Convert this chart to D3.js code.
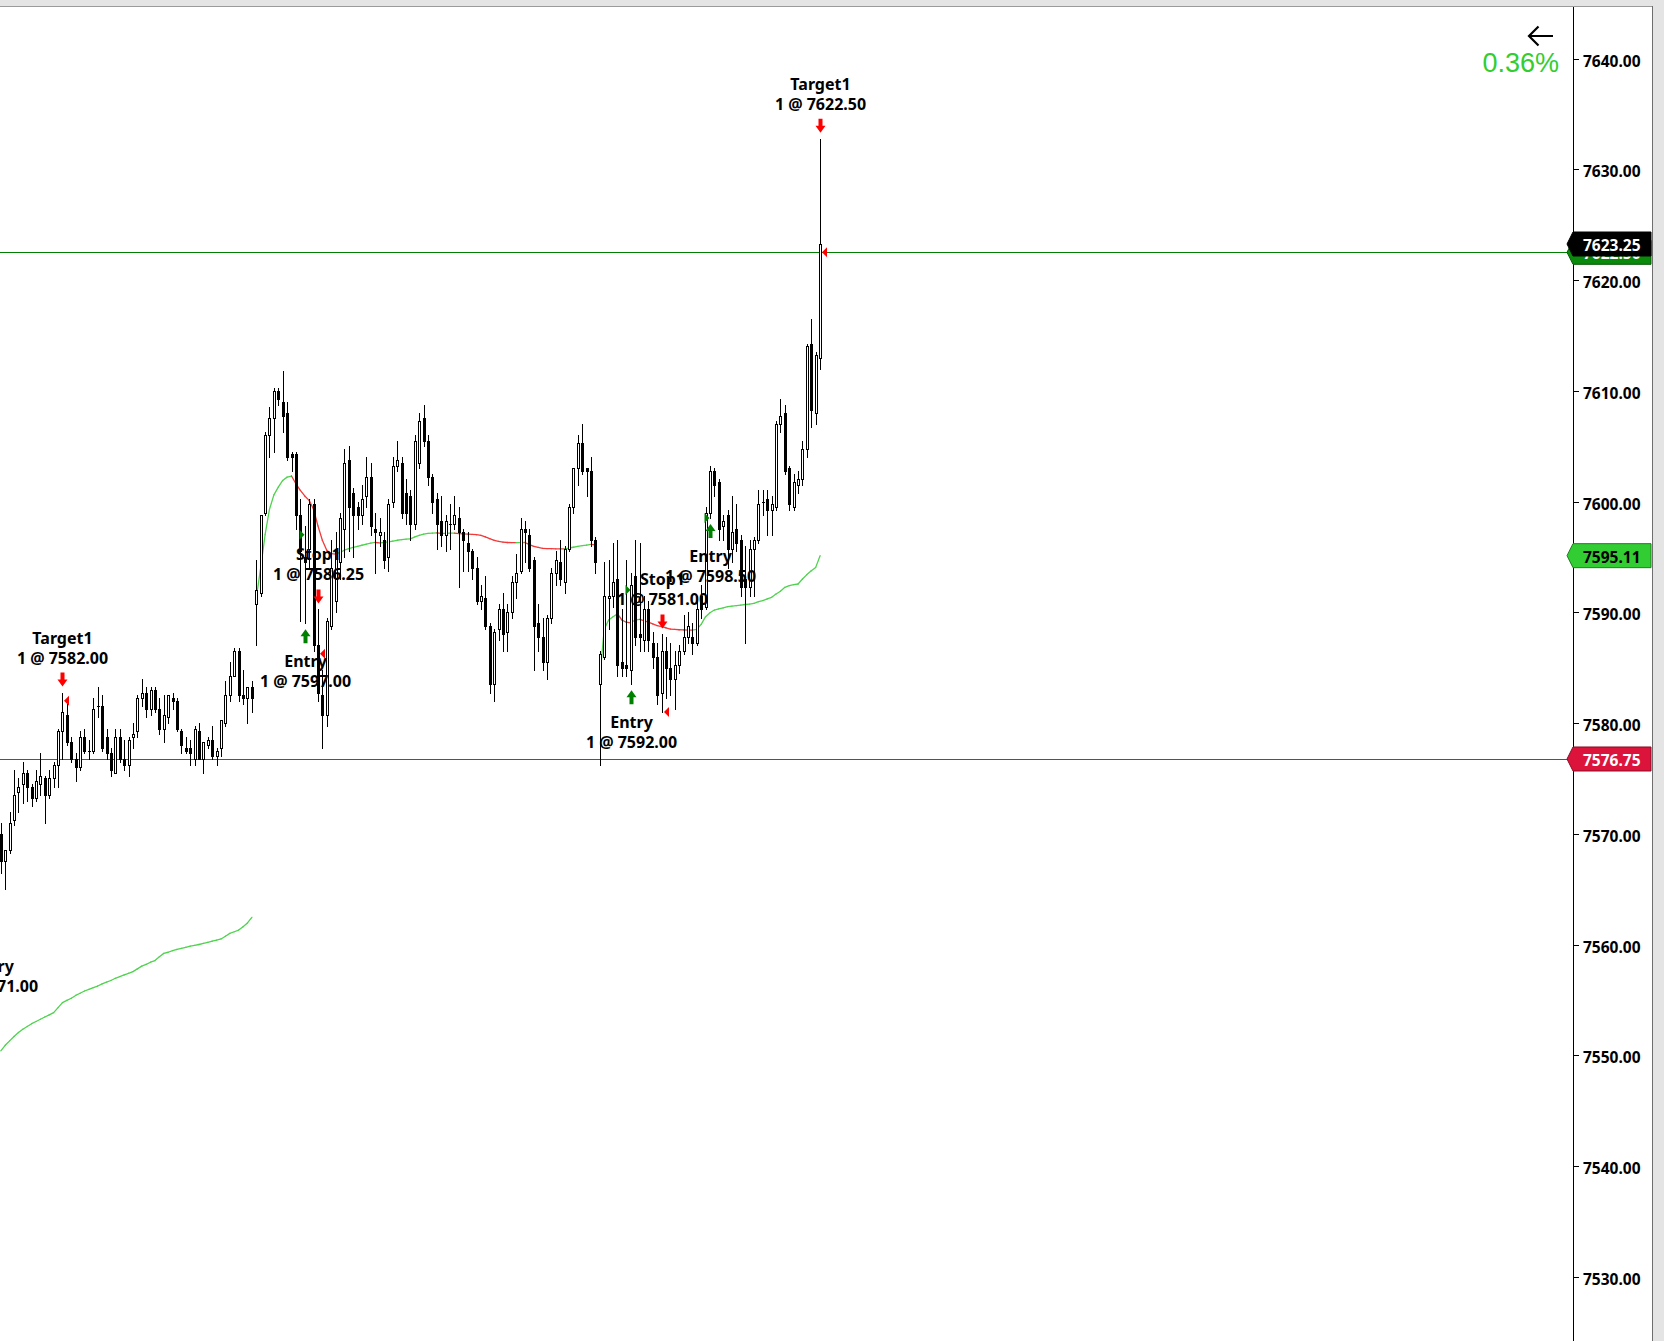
<!DOCTYPE html>
<html><head><meta charset="utf-8">
<script src="https://cdn.jsdelivr.net/npm/d3@7"></script>
<style>
html,body{margin:0;padding:0;background:#fff;overflow:hidden;}
svg{display:block;}
</style></head><body>
<svg id="chart" width="1664" height="1341"></svg>
<script>
// ---------- DATA ----------
const opens = [
7570,7567.5,7568.5,7571.25,7573.75,7574.5,7575.5,7574.25,7573.25,7574.5,
7575,7573.5,7575,7576.25,7579.25,7580.75,7578.25,7576.75,7576,7578.75,
7577.5,7577.5,7581.5,7581.5,7578.75,7577.25,7575.5,7578.75,7576.75,7576.25,
7578.75,7579.25,7582.25,7582.75,7581.25,7583,7581.25,7579.5,7580.5,7582.25,
7582,7579.25,7577.75,7577.75,7576.75,7579.25,7576.75,7578,7578.5,7577,
7577.75,7580,7582.5,7584.25,7586.5,7582.5,7582.25,7583.25,7590.75,7591.75,
7599,7606,7607.5,7610,7609,7608,7604.25,7604.25,7598.75,7595,
7595.75,7599.75,7587,7582.5,7580.75,7588.75,7591,7594.5,7597.5,7603.75,
7600.75,7599.5,7598.75,7600.5,7602.25,7597.5,7597,7596.5,7595,7600,
7603.25,7603.5,7600.75,7600.5,7598,7603.5,7607.5,7605.5,7602.25,7600.25,
7598.25,7597,7598,7598,7598.5,7597.25,7596.25,7595.5,7594,7591,
7591.25,7588.75,7583.5,7588.5,7590.25,7588.25,7590,7592.75,7593.75,7597.5,
7597,7594.75,7589,7587.75,7585.5,7589.5,7593.5,7594.5,7592.75,7595.75,
7599.5,7603,7605.25,7603,7602.75,7596.5,7583.5,7586,7591.25,7591.5,
7593,7585.5,7585.25,7584.75,7593.25,7588,7587.5,7590.25,7587.25,7586,
7582.75,7586.5,7585,7584,7585.25,7586.5,7587.75,7587.75,7587.25,7591.5,
7590.5,7599,7602.75,7601.75,7597.75,7598.75,7595.75,7597.5,7596.5,7593,
7592.25,7595.75,7596.5,7600,7600.25,7599.25,7599.5,7607,7608,7603,
7599.5,7601.5,7602,7604.75,7614.25,7608,7613
];
const highs = [
7571,7568.5,7572,7575.75,7575,7576.5,7575.75,7574.5,7575.75,7577.25,
7575.25,7575.75,7576.5,7579.5,7582.75,7581.75,7578.75,7577.25,7579.25,7579.5,
7578.5,7582.25,7583.25,7582.5,7579.5,7577.75,7579.5,7579.5,7578.5,7578.75,
7580,7582.5,7584,7583.25,7583.25,7583.25,7582.25,7582.5,7582.5,7582.75,
7582.25,7579.5,7578.75,7578.5,7579.75,7580,7578.25,7578.75,7579.75,7577.75,
7580.25,7583.75,7585.5,7586.75,7586.75,7584.75,7583.25,7583.75,7594.75,7598.75,
7606.25,7608.5,7610.25,7610.25,7611.75,7609,7604.5,7604.5,7600.25,7597.75,
7600.25,7600.25,7590.25,7584.75,7589.5,7596.5,7597.25,7599,7604.75,7605,
7601.25,7600,7601.5,7604,7603.5,7599,7598.5,7597.25,7600.25,7604,
7605.5,7604,7602,7601,7606,7608,7608.75,7606,7602.5,7600.75,
7600.5,7598.75,7599.75,7600.5,7599.5,7597.5,7597.25,7595.75,7595,7592.5,
7593.25,7589,7588.5,7590.75,7591.75,7590.75,7593.25,7595.25,7598.5,7598.25,
7597.5,7595,7590.75,7589.5,7589.75,7594,7595.5,7596.5,7596,7599.75,
7603,7606,7607,7603,7604,7596.75,7586.5,7594.5,7594.75,7596.25,
7596.5,7590.25,7594.75,7593.5,7596.5,7596.25,7591.5,7591,7588.25,7587.25,
7588,7587.75,7587.25,7586.5,7587,7589.75,7590,7589,7591.5,7592.5,
7599.5,7603.25,7603,7602,7598.75,7599.25,7600.5,7599.75,7597,7596,
7596.5,7596.75,7601,7601,7601,7600.5,7607.25,7609.25,7608.75,7603.25,
7602.5,7602.75,7605.5,7614.25,7616.5,7613.5,7632.75
];
const lows = [
7566.5,7565,7568.25,7570.75,7572,7572.75,7573,7572.5,7573,7573.5,
7571,7573.25,7574.25,7574.25,7576.75,7578,7576.5,7574.75,7575.75,7577.25,
7576.75,7577.25,7580.5,7577.5,7576.75,7575.25,7575.5,7576.5,7575.75,7575.25,
7577.75,7578.75,7581.5,7580.5,7580.75,7581,7579,7578.25,7580,7581.25,
7579.25,7577.25,7577.25,7576.25,7576.25,7576.75,7575.5,7577.75,7576.75,7576.25,
7577,7579.75,7582,7584.25,7582,7581.75,7580,7581,7587,7591.5,
7598.75,7604,7604.5,7608.75,7606.25,7603.75,7602.75,7597.5,7589.25,7589,
7594,7586.5,7582,7577.75,7579.75,7588.5,7590,7593,7595,7595.5,
7595,7597.5,7598,7599.5,7597,7593.5,7596,7594,7593.75,7599.5,
7602.75,7598.5,7598,7596.5,7597.5,7603,7605,7601.5,7599,7595.75,
7596,7595.5,7595.75,7597.5,7592.25,7593.75,7593.75,7593,7590.75,7590.25,
7588.5,7582.75,7582,7587.5,7586.5,7586.5,7589.5,7591.25,7593.5,7594.5,
7593.75,7584.75,7586.5,7584.75,7584,7589,7592.5,7592.5,7591.75,7595.5,
7599,7601.5,7602.5,7600.5,7596,7593.5,7576.25,7585.75,7588.5,7590.5,
7584.25,7584.25,7584.25,7583.5,7587,7586.5,7586.5,7586.5,7585,7581.75,
7581,7582.25,7582.5,7581.25,7584.5,7586.25,7587.25,7586.25,7587,7589.5,
7590.25,7598.5,7600.5,7596.5,7596.5,7594,7594.5,7595.5,7591.5,7587.25,
7591.5,7591.5,7596.25,7598.75,7597,7597,7599.25,7606.25,7602.5,7599.25,
7599.25,7600.75,7601.5,7604,7606.75,7607,7612
];
const closes = [
7567.5,7568.5,7571,7573.5,7574.25,7575.5,7574.25,7573.25,7574.75,7575.25,
7573.5,7575,7576.25,7579.25,7581,7578.25,7576.75,7576,7578.75,7577.5,
7577.5,7581.25,7581.5,7577.75,7577.25,7575.75,7578.75,7576.75,7576.25,7578.5,
7579,7582.25,7582.75,7581.25,7583,7581.25,7579.5,7580.75,7582.5,7582,
7579.5,7578,7577.5,7577.25,7579.5,7576.75,7578.25,7578.5,7577,7577.5,
7580.25,7582.5,7584.25,7586.5,7582.5,7582.25,7583.25,7582.25,7592,7598.75,
7606,7607.5,7610,7609.25,7607.75,7604,7604,7598.75,7595.5,7594.5,
7599.75,7587,7582.75,7580.75,7589.25,7594,7595.5,7598.5,7603.5,7599.5,
7598.75,7598.75,7600.25,7602.25,7597.75,7597.25,7597.25,7594.75,7599.75,7603.25,
7603.75,7599,7599,7598,7605.5,7607.25,7605.5,7602.25,7600,7598,
7597,7598.25,7598,7598.75,7597.25,7596.5,7595.5,7594,7591,7591.5,
7588.75,7583.5,7588.25,7590.25,7588,7590,7592.75,7593.5,7597.5,7597.25,
7594,7588.75,7587.75,7585.5,7589.5,7593.5,7594.75,7593,7595.75,7599.5,
7603,7605.25,7602.75,7602.75,7596.5,7594.5,7586.25,7591.5,7591.5,7592.75,
7585.25,7585,7585,7592.5,7587.75,7587.75,7590.25,7587.5,7586,7582.5,
7586.5,7585,7584,7585.25,7586.5,7587.75,7588.75,7587.25,7590.25,7590.25,
7599,7602.75,7601.5,7597.5,7598.25,7595.75,7597.25,7596.25,7592.25,7592.25,
7595.75,7596.5,7599.75,7600,7599.25,7599.75,7607,7607.75,7602.75,7599.75,
7601.75,7602,7604.75,7614,7608.25,7613.25,7623.25
];

// moving-average line, one array per session (first bar index given)
const ma1Start = 0;
const ma1 = [
7550.4,7550.9,7551.3,7551.7,7552.05,7552.35,7552.6,7552.85,7553.05,7553.25,
7553.45,7553.65,7553.85,7554.3,7554.75,7554.95,7555.15,7555.4,7555.6,7555.8,
7555.95,7556.1,7556.25,7556.45,7556.6,7556.75,7556.95,7557.1,7557.25,7557.4,
7557.55,7557.8,7558.05,7558.2,7558.4,7558.55,7558.9,7559.2,7559.3,7559.45,
7559.55,7559.65,7559.75,7559.85,7559.92,7560.0,7560.1,7560.2,7560.3,7560.4,
7560.5,7560.75,7561.0,7561.15,7561.3,7561.6,7561.95,7562.45
];
const ma2Start = 58;
const ma2 = [
7591.3,7594.0,7597.0,7599.3,7600.6,7601.3,7601.9,7602.2,7602.3,7601.6,
7601.0,7600.5,7600.1,7599.3,7597.8,7596.5,7595.6,7595.3,7595.25,7595.4,
7595.6,7595.75,7595.85,7595.95,7596.05,7596.15,7596.25,7596.3,7596.27,7596.3,
7596.35,7596.42,7596.5,7596.55,7596.6,7596.62,7596.8,7596.95,7597.05,7597.12,
7597.14,7597.16,7597.12,7597.13,7597.14,7597.15,7597.1,7597.08,7597.06,7597.04,
7597.0,7596.95,7596.8,7596.64,7596.5,7596.4,7596.33,7596.3,7596.29,7596.28,
7596.29,7596.3,7596.1,7595.95,7595.85,7595.77,7595.75,7595.74,7595.73,7595.725,
7595.72,7595.8,7595.87,7595.95,7596.02,7596.06,7596.13,7596.08
];
const ma3Start = 136;
const ma3 = [
7584.2,7588.5,7589.3,7589.6,7589.85,7589.3,7589.1,7589.05,7589.3,7589.35,
7589.25,7589.1,7588.95,7588.8,7588.7,7588.6,7588.48,7588.45,7588.42,7588.4,
7588.39,7588.38,7588.45,7588.9,7589.6,7589.95,7590.2,7590.3,7590.4,7590.5,
7590.55,7590.6,7590.65,7590.7,7590.74,7590.8,7590.95,7591.05,7591.2,7591.35,
7591.65,7591.9,7592.25,7592.4,7592.5,7592.55,7593.0,7593.4,7593.75,7594.05,
7595.11
];

const yTicks = [7530,7540,7550,7560,7570,7580,7590,7600,7610,7620,7630,7640];

// trade executions
const execBars   = [-2, 14, 69, 72, 143, 150, 161, 186];
const execPrices = [7571.00, 7582.00, 7597.00, 7586.25, 7592.00, 7581.00, 7598.50, 7622.50];
const execNames  = ['Entry','Target1','Entry','Stop1','Entry','Stop1','Entry','Target1'];
const execSides  = ['buy','sell','buy','sell','buy','sell','buy','sell'];
const offscreenBarLow = {"-2": 7561.5};

// horizontal order lines and price-axis markers
const orderLines = [7622.50, 7576.75];
const markerPrices = [7622.50, 7595.11, 7576.75, 7623.25];
const changeText = "0.36%";

// ---------- DRAWING ----------
const W = 1664, H = 1341, axisX = 1573;
const svg = d3.select('#chart');
const x = d3.scaleLinear().domain([0, 186]).range([0.8, 820.1]);
const y = d3.scaleLinear().domain([7530, 7640]).range([1276.75, 58.5]);

svg.append('rect').attr('width', W).attr('height', H).attr('fill', '#fff');

const plot = svg.append('g');

// order lines
const lineColors = ['#008000', '#dc143c'];
orderLines.forEach((v, k) => {
  const yy = Math.round(y(v)) + 0.5;
  plot.append('line').attr('x1', 0).attr('x2', axisX).attr('y1', yy).attr('y2', yy)
    .attr('stroke', lineColors[k]).attr('stroke-width', 1);
});

// moving average segments
const GREEN = '#4fd34f', RED = '#f23a3a';
const seg = d3.line().x(d => x(d[0])).y(d => y(d[1]));
function drawMA(start, vals) {
  for (let k = 1; k < vals.length; k++) {
    const col = vals[k] >= vals[k-1] ? GREEN : RED;
    plot.append('path')
      .attr('d', seg([[start + k - 1, vals[k-1]], [start + k, vals[k]]]))
      .attr('fill', 'none').attr('stroke', col).attr('stroke-width', 1.3)
      .attr('stroke-linecap', 'round');
  }
}
drawMA(ma1Start, ma1);
drawMA(ma2Start, ma2);
drawMA(ma3Start, ma3);

// candles
const cg = plot.append('g').attr('shape-rendering', 'crispEdges');
opens.forEach((o, i) => {
  const c = closes[i], h = highs[i], l = lows[i];
  const cx = Math.round(x(i));
  cg.append('line').attr('x1', cx + 0.5).attr('x2', cx + 0.5)
    .attr('y1', Math.round(y(h))).attr('y2', Math.round(y(l)) + 1)
    .attr('stroke', '#000').attr('stroke-width', 1);
  const top = Math.round(y(Math.max(o, c))), bot = Math.round(y(Math.min(o, c)));
  if (c > o) {
    cg.append('rect').attr('x', cx - 0.5).attr('y', top + 0.5)
      .attr('width', 2).attr('height', Math.max(bot - top, 1))
      .attr('fill', '#fff').attr('stroke', '#000').attr('stroke-width', 1);
  } else if (c < o) {
    cg.append('rect').attr('x', cx - 1).attr('y', top)
      .attr('width', 3).attr('height', Math.max(bot - top, 1) + 1)
      .attr('fill', '#000');
  } else {
    cg.append('rect').attr('x', cx - 1).attr('y', top).attr('width', 3).attr('height', 1).attr('fill', '#000');
  }
});

// executions
const eg = plot.append('g');
const labelFont = '700 16px "Noto Sans", "Open Sans", sans-serif';
execBars.forEach((b, k) => {
  const cx = Math.round(x(b)) + 0.5;
  const py = y(execPrices[k]);
  const buy = execSides[k] === 'buy';
  const col = buy ? '#008000' : '#ff0000';
  if (buy) {
    eg.append('path').attr('d', `M${cx-6},${py-5}L${cx-1},${py}L${cx-6},${py+5}Z`).attr('fill', col);
  } else {
    eg.append('path').attr('d', `M${cx+6.5},${py-5}L${cx+1.5},${py}L${cx+6.5},${py+5}Z`).attr('fill', col);
  }
  let line1Y, line2Y;
  if (buy) {
    const lowV = (b >= 0) ? lows[b] : offscreenBarLow[String(b)];
    const t = y(lowV) + 6;
    eg.append('path').attr('d',
      `M${cx},${t}L${cx+5},${t+7}L${cx+2},${t+7}L${cx+2},${t+14}L${cx-2},${t+14}L${cx-2},${t+7}L${cx-5},${t+7}Z`)
      .attr('fill', col);
    line1Y = t + 14 + 18; line2Y = line1Y + 20;
  } else {
    const t = y(highs[b]) - 6;
    eg.append('path').attr('d',
      `M${cx},${t}L${cx+5},${t-7}L${cx+2},${t-7}L${cx+2},${t-14}L${cx-2},${t-14}L${cx-2},${t-7}L${cx-5},${t-7}Z`)
      .attr('fill', col);
    line2Y = t - 14 - 15; line1Y = line2Y - 20;
  }
  [[execNames[k], line1Y], ['1 @ ' + execPrices[k].toFixed(2), line2Y]].forEach(([txt, ty]) => {
    eg.append('text').attr('x', cx).attr('y', ty).attr('text-anchor', 'middle')
      .attr('dominant-baseline', 'central').style('font', labelFont).attr('fill', '#000').text(txt);
  });
});

// price axis
const axisFont = '700 15.5px "Noto Sans", "Open Sans", sans-serif';
svg.append('line').attr('x1', axisX + 0.5).attr('x2', axisX + 0.5).attr('y1', 6).attr('y2', H)
  .attr('stroke', '#000').attr('stroke-width', 1);
const ag = svg.append('g');
yTicks.forEach(v => {
  const yy = Math.round(y(v)) + 0.5;
  ag.append('line').attr('x1', axisX).attr('x2', axisX + 6).attr('y1', yy).attr('y2', yy).attr('stroke', '#000');
  ag.append('text').attr('x', axisX + 10).attr('y', yy + 1.5).attr('dominant-baseline', 'central')
    .style('font', axisFont).attr('fill', '#000').text(v.toFixed(2));
});

// price markers
const markerFill = ['#0a8a0a', '#32cd32', '#dc143c', '#000000'];
const markerText = ['#ffffff', '#000000', '#ffffff', '#ffffff'];
const markerStroke = ['#055a05', '#1f7f1f', '#8a0c26', '#000000'];
markerPrices.forEach((v, k) => {
  const yc = y(v);
  svg.append('path')
    .attr('d', `M${axisX-6},${yc}L${axisX},${yc-12}L${1651},${yc-12}L${1651},${yc+12}L${axisX},${yc+12}Z`)
    .attr('fill', markerFill[k]).attr('stroke', markerStroke[k]).attr('stroke-width', 1);
  svg.append('text').attr('x', axisX + 10).attr('y', yc + 1).attr('dominant-baseline', 'central')
    .style('font', axisFont).attr('fill', markerText[k]).text(v.toFixed(2));
});

// borders
svg.append('rect').attr('x', 0).attr('y', 0).attr('width', W).attr('height', 6).attr('fill', '#e4e4e4');
svg.append('line').attr('x1', 0).attr('x2', W).attr('y1', 6.5).attr('y2', 6.5).attr('stroke', '#9a9a9a');
svg.append('rect').attr('x', 1652).attr('y', 0).attr('width', 12).attr('height', H).attr('fill', '#e4e4e4');
svg.append('line').attr('x1', 1652.5).attr('x2', 1652.5).attr('y1', 6).attr('y2', H).attr('stroke', '#6e6e6e');

// back arrow and change text
svg.append('path').attr('d', 'M1553,36H1529M1538.5,26.5L1529,36L1538.5,45.5')
  .attr('fill', 'none').attr('stroke', '#000').attr('stroke-width', 2.2);
svg.append('text').attr('x', 1559).attr('y', 72).attr('text-anchor', 'end')
  .style('font', '400 27px "Liberation Sans", Arial, sans-serif').attr('fill', '#32cd32').text(changeText);
</script>
</body></html>
